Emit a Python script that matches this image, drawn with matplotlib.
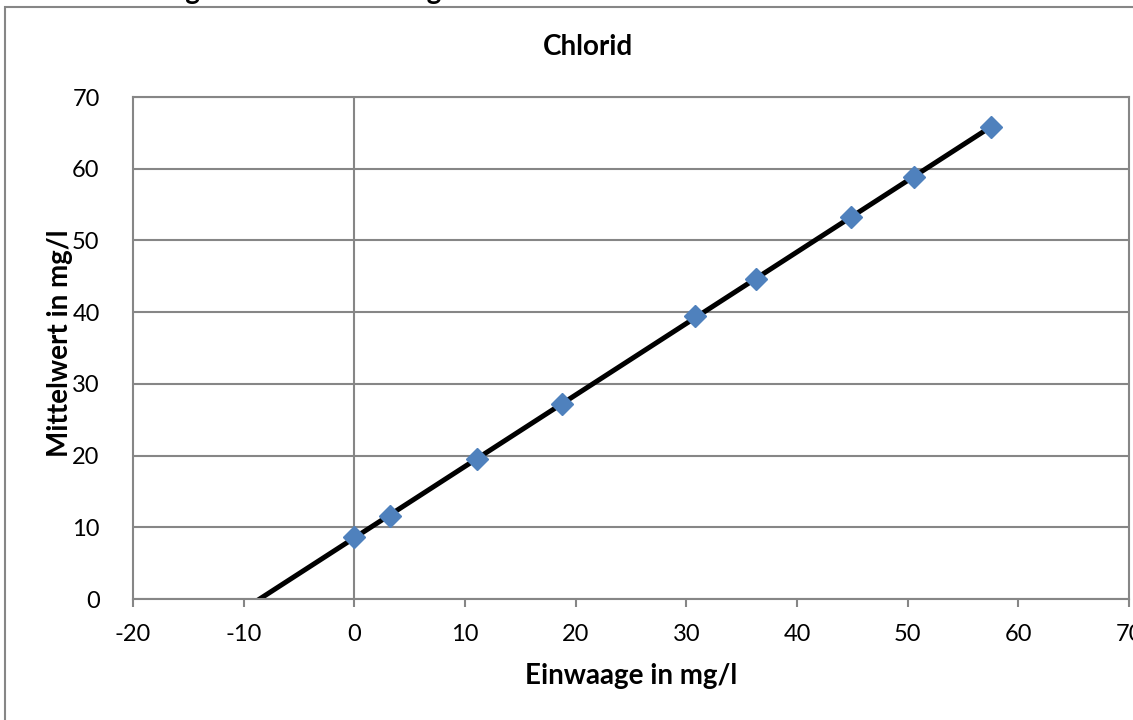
import numpy as np
import matplotlib
matplotlib.use("Agg")
import matplotlib.pyplot as plt
from matplotlib.patches import Rectangle

plt.rcParams['font.family'] = ['Lato', 'DejaVu Sans']

# Data
einwaage = [0.0, 3.2, 11.1, 18.8, 30.8, 36.3, 44.9, 50.6, 57.5]
mittelwert = [8.65, 11.6, 19.5, 27.2, 39.5, 44.6, 53.3, 58.9, 65.8]
x_ticks = [-20, -10, 0, 10, 20, 30, 40, 50, 60, 70]
y_ticks = [0, 10, 20, 30, 40, 50, 60, 70]
title = "Chlorid"
xlabel = "Einwaage in mg/l"
ylabel = "Mittelwert in mg/l"

W, H = 1133, 720
fig = plt.figure(figsize=(W / 100, H / 100), dpi=100)

grey = "#868686"
# outer chart frame (clipped on right/bottom)
fig.patches.append(Rectangle((5 / W, -0.2), 1.2, 1.2 - 7 / H, transform=fig.transFigure,
                             fill=False, edgecolor=grey, linewidth=1.5, clip_on=False))
# clipped heading text at top of the page (only descenders visible)
fig.text(45 / W, 1 - 4 / H, "Bestimmung der Wiederfindung", fontsize=20, fontweight='bold',
         ha='left', va='bottom', color='black')

ax = fig.add_axes([133 / W, 1 - 599 / H, (1129 - 133) / W, (599 - 97) / H])
ax.set_xlim(-20, 70)
ax.set_ylim(0, 70)
ax.set_xticks(x_ticks)
ax.set_yticks(y_ticks)
ax.set_xticklabels([str(t) for t in x_ticks])
ax.set_yticklabels([str(t) for t in y_ticks])

ax.grid(axis='y', color=grey, linewidth=1.5, zorder=0)
ax.axvline(0, color=grey, linewidth=1.5, zorder=0)
for s in ax.spines.values():
    s.set_color(grey)
    s.set_linewidth(1.5)

ax.tick_params(axis='x', direction='out', length=6, width=1.5, color=grey,
               labelsize=17, pad=12)
ax.tick_params(axis='y', length=0, labelsize=17, pad=24)

# linear trend line (fitted from data, extended backward)
coef = np.polyfit(einwaage, mittelwert, 1)
xl = np.array([-20, max(einwaage)])
ax.plot(xl, np.polyval(coef, xl), color='black', linewidth=3.6, zorder=2)

ax.plot(einwaage, mittelwert, linestyle='none', marker='D', markersize=11,
        color='#4F81BD', zorder=3)

fig.text(588 / W, 1 - 47 / H, title, fontsize=20, fontweight='bold', ha='center', va='center')
fig.text(631 / W, 1 - 676 / H, xlabel, fontsize=20, fontweight='bold', ha='center', va='center')
fig.text(60 / W, 1 - 343 / H, ylabel, fontsize=20, fontweight='bold', ha='center', va='center',
         rotation=90)

fig.savefig("out.png", dpi=100)
